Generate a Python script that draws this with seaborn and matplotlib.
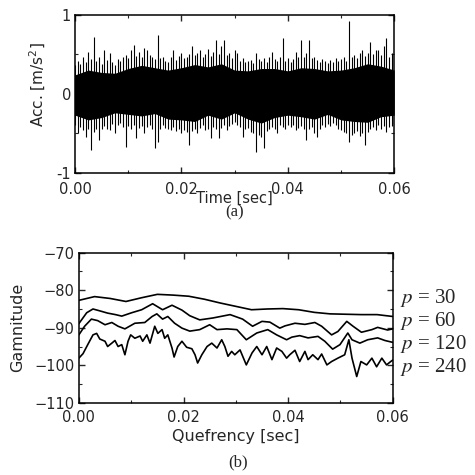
import numpy as np
import pandas as pd
import seaborn as sns
import matplotlib.pyplot as plt
from matplotlib.ticker import MultipleLocator, FormatStrFormatter

# ---- panel (a): acceleration signal, read as a dense band (core envelope)
# plus the max / min of the trace in 0.5 ms bins
core_t = [0, .0025, .005, .0075, .01, .0125, .015, .0175, .02, .0225, .025, .0275,
          .03, .0325, .035, .0375, .04, .0425, .045, .0475, .05, .0525, .055, .0575, .06]
core_hi = [0.24, 0.30, 0.27, 0.26, 0.32, 0.36, 0.33, 0.30, 0.33, 0.37, 0.34, 0.38,
           0.30, 0.29, 0.32, 0.32, 0.29, 0.33, 0.32, 0.29, 0.30, 0.33, 0.38, 0.35, 0.30]
core_lo = [-0.27, -0.33, -0.30, -0.24, -0.26, -0.28, -0.25, -0.32, -0.33, -0.35, -0.27, -0.32,
           -0.24, -0.32, -0.37, -0.30, -0.27, -0.29, -0.32, -0.26, -0.33, -0.35, -0.36, -0.29, -0.27]

bin_t = np.arange(121) * 0.0005
bin_hi = [0.36, 0.42, 0.38, 0.47, 0.40, 0.53, 0.44, 0.72, 0.41, 0.46,
          0.38, 0.56, 0.43, 0.51, 0.40, 0.37, 0.44, 0.41, 0.46, 0.49,
          0.45, 0.56, 0.62, 0.48, 0.53, 0.47, 0.58, 0.56, 0.49, 0.47,
          0.44, 0.74, 0.45, 0.47, 0.42, 0.40, 0.46, 0.56, 0.43, 0.48,
          0.51, 0.45, 0.47, 0.50, 0.60, 0.49, 0.52, 0.56, 0.47, 0.50,
          0.57, 0.48, 0.53, 0.68, 0.50, 0.60, 0.68, 0.49, 0.51, 0.45,
          0.56, 0.51, 0.42, 0.45, 0.40, 0.42, 0.43, 0.39, 0.51, 0.44,
          0.42, 0.45, 0.40, 0.46, 0.53, 0.44, 0.41, 0.47, 0.70, 0.42,
          0.45, 0.40, 0.44, 0.53, 0.47, 0.68, 0.46, 0.51, 0.68, 0.45,
          0.47, 0.43, 0.40, 0.44, 0.41, 0.39, 0.43, 0.40, 0.45, 0.41,
          0.44, 0.47, 0.42, 0.92, 0.46, 0.49, 0.45, 0.51, 0.56, 0.48,
          0.52, 0.66, 0.50, 0.55, 0.56, 0.49, 0.60, 0.70, 0.47, 0.51, 0.44]
bin_lo = [-0.40, -0.50, -0.42, -0.46, -0.54, -0.45, -0.71, -0.48, -0.44, -0.59,
          -0.45, -0.41, -0.44, -0.46, -0.38, -0.50, -0.40, -0.37, -0.42, -0.67,
          -0.41, -0.44, -0.40, -0.56, -0.43, -0.41, -0.50, -0.42, -0.39, -0.45,
          -0.69, -0.61, -0.44, -0.40, -0.43, -0.45, -0.46, -0.42, -0.47, -0.44,
          -0.50, -0.46, -0.48, -0.65, -0.47, -0.44, -0.50, -0.43, -0.40, -0.46,
          -0.44, -0.56, -0.42, -0.45, -0.56, -0.43, -0.40, -0.46, -0.41, -0.38,
          -0.36, -0.40, -0.42, -0.54, -0.45, -0.43, -0.48, -0.50, -0.73, -0.52,
          -0.55, -0.69, -0.47, -0.44, -0.42, -0.45, -0.50, -0.40, -0.42, -0.44,
          -0.39, -0.42, -0.40, -0.46, -0.43, -0.41, -0.45, -0.59, -0.44, -0.42,
          -0.50, -0.54, -0.44, -0.40, -0.42, -0.38, -0.41, -0.37, -0.40, -0.44,
          -0.46, -0.48, -0.50, -0.61, -0.52, -0.50, -0.47, -0.53, -0.49, -0.65,
          -0.48, -0.45, -0.42, -0.46, -0.40, -0.44, -0.41, -0.48, -0.42, -0.41, -0.38]

# ---- panel (b): cepstra for different orders p
t30 = [0, .003, .006, .009, .012, .015, .018, .021, .024, .027, .030, .033, .036,
       .039, .042, .045, .048, .051, .054, .057, .060]
g30 = [-82.7, -81.7, -82.2, -83.0, -82.0, -81.1, -81.3, -81.6, -82.4, -83.4, -84.3,
       -85.2, -85.0, -84.9, -85.2, -85.9, -86.3, -86.4, -86.5, -86.5, -87.0]

t60 = [0, .0015, .0027, .004, .0055, .007, .0082, .0101, .012, .0141, .016, .0178,
       .0197, .0212, .0231, .0256, .0289, .0313, .0332, .035, .0365, .0384, .0394,
       .0413, .0432, .0451, .0464, .0483, .0495, .0512, .0524, .054, .056, .0571,
       .059, .060]
g60 = [-88.9, -86.0, -85.0, -85.5, -86.1, -86.5, -86.9, -86.0, -85.2, -83.6, -85.2,
       -84.0, -85.3, -86.8, -87.9, -87.4, -86.5, -87.7, -89.6, -88.3, -88.5, -90.1,
       -89.5, -88.8, -89.1, -88.6, -89.6, -91.9, -91.0, -88.3, -89.6, -91.2, -90.5,
       -89.9, -90.6, -90.3]

t120 = [0, .0011, .0024, .0036, .005, .0063, .0075, .0088, .0107, .0126, .014, .0149,
        .016, .017, .0183, .0197, .0212, .0231, .025, .0264, .0283, .0302, .032, .034,
        .0361, .0378, .0397, .0407, .0422, .0438, .0457, .047, .0485, .0499, .0514,
        .0522, .0537, .0552, .0571, .0585, .060]
g120 = [-91.9, -89.6, -87.7, -88.1, -89.2, -88.6, -89.6, -90.3, -88.8, -88.6, -87.0,
        -86.3, -87.7, -87.0, -88.8, -90.1, -90.9, -90.5, -89.2, -90.5, -90.3, -90.5,
        -93.2, -91.4, -90.5, -91.9, -93.2, -92.5, -92.1, -92.7, -92.3, -93.6, -95.7,
        -94.5, -91.4, -93.2, -94.1, -93.2, -92.7, -93.4, -93.9]

t240 = [0, .0008, .0017, .0027, .0034, .004, .005, .0055, .0063, .0069, .0075, .0082,
        .0088, .0094, .0099, .0107, .0117, .0122, .013, .0136, .0145, .0151, .0159,
        .0164, .017, .0178, .0182, .0189, .0197, .0206, .0216, .0222, .0227, .0235,
        .0245, .0254, .0264, .0273, .0279, .0285, .0292, .0298, .0308, .032, .0331,
        .034, .035, .0359, .0369, .0378, .0388, .0397, .0403, .0413, .0422, .0432,
        .0438, .0447, .0457, .0464, .0474, .0483, .0495, .0508, .0516, .0522, .0531,
        .0539, .055, .056, .0569, .0579, .0588, .0596, .060]
g240 = [-98.1, -96.9, -94.5, -91.9, -91.5, -93.0, -93.6, -95.0, -94.1, -93.4, -95.0,
        -94.5, -97.2, -93.6, -91.9, -92.8, -92.2, -93.6, -91.9, -94.1, -89.6, -91.5,
        -90.5, -92.8, -91.9, -95.4, -97.8, -95.0, -93.6, -95.2, -95.6, -97.2, -99.4,
        -97.2, -95.0, -94.1, -95.4, -93.2, -95.0, -97.6, -96.3, -97.2, -95.9, -99.9,
        -96.7, -95.0, -97.2, -95.0, -98.5, -95.4, -96.3, -98.1, -97.2, -96.0, -99.0,
        -96.3, -98.5, -97.2, -98.5, -97.0, -99.9, -99.0, -98.1, -97.2, -93.2, -98.1,
        -103.0, -99.0, -99.9, -98.1, -100.4, -98.1, -99.9, -99.0, -98.6]

orders = ["30", "60", "120", "240"]

cep = pd.concat([
    pd.DataFrame({"q": t30, "g": g30, "p": "30"}),
    pd.DataFrame({"q": t60, "g": g60, "p": "60"}),
    pd.DataFrame({"q": t120, "g": g120, "p": "120"}),
    pd.DataFrame({"q": t240, "g": g240, "p": "240"}),
])

sns.set_style("ticks")
plt.rcParams['font.family'] = ['DejaVu Sans']
plt.rcParams['mathtext.fontset'] = 'dejavusans'

fig = plt.figure(figsize=(4.75, 4.75), dpi=100)
ax1 = fig.add_axes([0.158, 0.636, 0.672, 0.333])
ax2 = fig.add_axes([0.166, 0.152, 0.661, 0.316])

# (a)
ax1.fill_between(core_t, core_lo, core_hi, color="black", lw=0)
ax1.vlines(bin_t, bin_lo, bin_hi, color="black", lw=0.8)
ax1.set_xlim(0, 0.06)
ax1.set_ylim(-1, 1)
ax1.set_xticks([0, 0.02, 0.04, 0.06])
ax1.set_yticks([-1, 0, 1])
ax1.set_yticklabels(["-1", "0", "1"])
ax1.xaxis.set_major_formatter(FormatStrFormatter("%.2f"))
ax1.xaxis.set_minor_locator(MultipleLocator(0.01))
ax1.yaxis.set_minor_locator(MultipleLocator(0.5))
ax1.set_xlabel("Time [sec]", fontsize=10.5)
ax1.set_ylabel("Acc. [m/s$^2$]", fontsize=11)
ax1.xaxis.set_label_coords(0.5, -0.11)
ax1.yaxis.set_label_coords(-0.085, 0.56)

# (b)
sns.lineplot(data=cep, x="q", y="g", hue="p", palette=["black"] * 4,
             estimator=None, legend=False, lw=1.2, ax=ax2)
ax2.set_xlim(0, 0.06)
ax2.set_ylim(-110, -70)
ax2.set_xticks([0, 0.02, 0.04, 0.06])
ax2.set_yticks([-110, -100, -90, -80, -70])
ax2.xaxis.set_major_formatter(FormatStrFormatter("%.2f"))
ax2.xaxis.set_minor_locator(MultipleLocator(0.01))
ax2.yaxis.set_minor_locator(MultipleLocator(5))
ax2.set_xlabel("Quefrency [sec]", fontsize=11.5)
ax2.set_ylabel("Gamnitude", fontsize=11.5)
ax2.xaxis.set_label_coords(0.5, -0.175)
ax2.yaxis.set_label_coords(-0.17, 0.5)

for ax in (ax1, ax2):
    ax.tick_params(which="both", direction="in", top=True, right=True,
                   labelsize=10.5, pad=3)
    ax.tick_params(which="major", length=4, width=1)
    ax.tick_params(which="minor", length=2, width=0.8)
    for s in ax.spines.values():
        s.set_linewidth(1.1)
        s.set_color("black")
ax1.tick_params(axis="x", which="major", pad=6.5)
ax2.tick_params(axis="x", which="major", pad=5)

label_y = [298, 321, 344, 367]
for p, y in zip(orders, label_y):
    fig.text(400 / 475, 1 - y / 475, r"$\mathit{p}$ = " + p, fontsize=15,
             family="Liberation Serif", math_fontfamily="stix",
             va="center", ha="left")

fig.text(235 / 475, 1 - 212 / 475, "(a)", fontsize=12, family="Liberation Serif",
         ha="center", va="center")
fig.text(238 / 475, 1 - 462 / 475, "(b)", fontsize=12, family="Liberation Serif",
         ha="center", va="center")

fig.savefig("out.png", dpi=100, facecolor="white")
